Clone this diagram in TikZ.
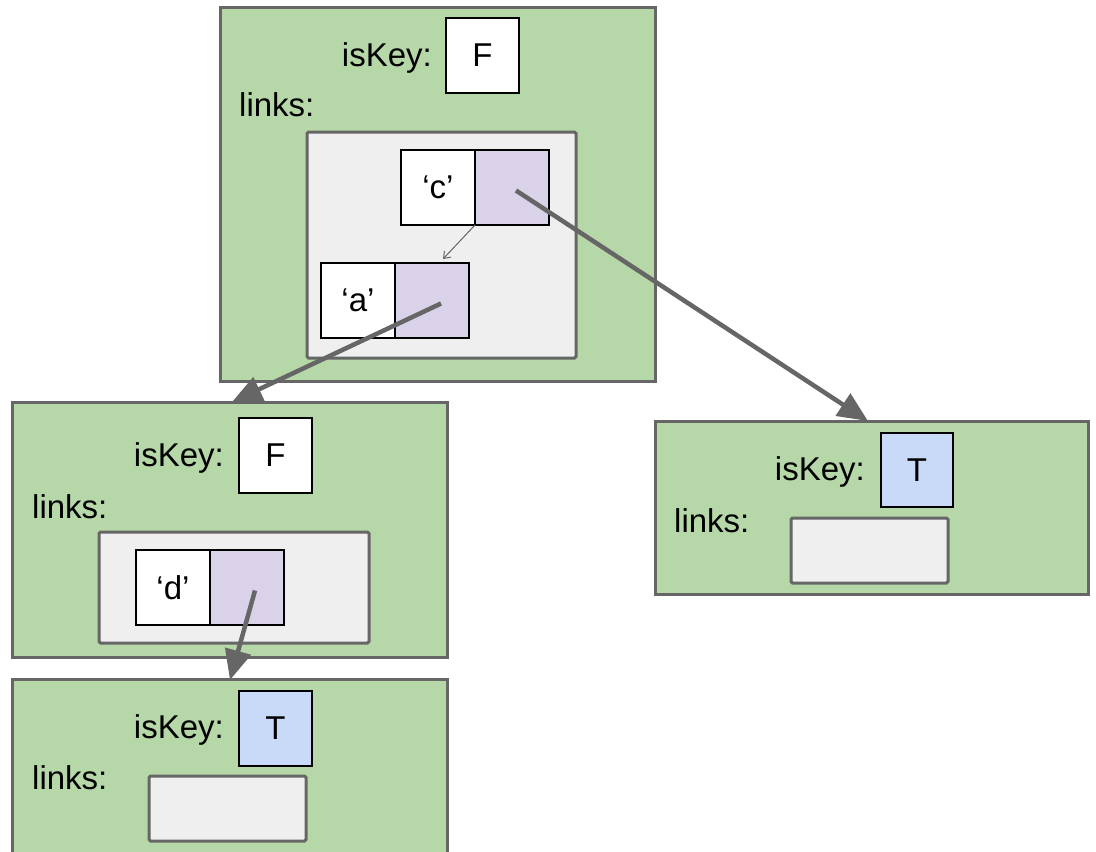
\documentclass[tikz,border=0pt]{standalone}
\usepackage{fontspec}
\setmainfont{Liberation Sans}
\usetikzlibrary{arrows.meta}
\definecolor{nodegreen}{HTML}{B6D7A8}
\definecolor{edgegray}{HTML}{666666}
\definecolor{listgray}{HTML}{EFEFEF}
\definecolor{ptrpurple}{HTML}{D9D2E9}
\definecolor{keyblue}{HTML}{C9DAF8}
\begin{document}
\begin{tikzpicture}[x=1pt,y=-1pt,
  box/.style={draw=edgegray, line width=3pt, inner sep=0pt, outer sep=0pt, anchor=north west},
  trienode/.style={box, fill=nodegreen},
  linklist/.style={box, fill=listgray, rounded corners=1.5pt},
  cell/.style={draw=black, line width=1.5pt, inner sep=0pt, outer sep=0pt, anchor=north west,
    minimum width=74pt, minimum height=75pt, font=\fontsize{33}{36}\selectfont},
  keycell/.style={cell, fill=white},
  ptrcell/.style={cell, fill=ptrpurple},
  flagF/.style={cell, fill=white, minimum width=73pt},
  flagT/.style={cell, fill=keyblue, minimum width=73pt},
  label/.style={font=\fontsize{33}{36}\selectfont, inner sep=0pt},
  link/.style={draw=edgegray, line width=4.5pt, -{Triangle[length=30pt,width=26pt]}},
  sibling/.style={draw=edgegray, line width=1pt, -{Straight Barb[length=6pt,width=9pt]}}
]
\useasboundingbox (0,0) rectangle (1096,852);
\clip (0,0) rectangle (1096,852);

% root node
\node[trienode, minimum width=435pt, minimum height=374pt] (root) at (220,7) {};
\node[label, anchor=base east] (rootkeylbl) at (432,66) {isKey:};
\node[flagF] (rootflag) at (446,18) {F};
\node[label, anchor=base west] (rootlinks) at (239,116) {links:};
\node[linklist, minimum width=269pt, minimum height=226pt] (rootlist) at (307,132) {};
\node[keycell] (ck) at (401,150) {`c'};
\node[ptrcell] (cp) at (475,150) {};
\node[keycell] (ak) at (321,263) {`a'};
\node[ptrcell] (ap) at (395,263) {};

% node reached by 'a'
\node[trienode, minimum width=435pt, minimum height=255pt] (anode) at (12,402) {};
\node[label, anchor=base east] (akeylbl) at (224,466) {isKey:};
\node[flagF] (aflag) at (239,418) {F};
\node[label, anchor=base west] (alinks) at (32,518) {links:};
\node[linklist, minimum width=270pt, minimum height=111pt] (alist) at (99,532) {};
\node[keycell] (dk) at (136,550) {`d'};
\node[ptrcell] (dp) at (210,550) {};

% node reached by 'd'
\node[trienode, minimum width=435pt, minimum height=200pt] (dnode) at (12,679) {};
\node[label, anchor=base east] (dkeylbl) at (224,738) {isKey:};
\node[flagT] (dflag) at (239,691) {T};
\node[label, anchor=base west] (dlinks) at (32,789) {links:};
\node[linklist, minimum width=157pt, minimum height=65pt] (dlist) at (149,776) {};

% node reached by 'c'
\node[trienode, minimum width=433pt, minimum height=173pt] (cnode) at (655,421) {};
\node[label, anchor=base east] (ckeylbl) at (865,480) {isKey:};
\node[flagT, minimum width=72pt, minimum height=74pt] (cflag) at (881,433) {T};
\node[label, anchor=base west] (clinks) at (674,532) {links:};
\node[linklist, minimum width=157pt, minimum height=65pt] (clist) at (791,518) {};

% arrow tips on the target nodes
\coordinate (ctip) at (868,421);
\coordinate (atip) at (232,402);
\coordinate (dtip) at (230,680);
\coordinate (sibtip) at (443,259);

% pointers
\draw[sibling] (cp.south west) -- (sibtip);
\draw[link] ([shift={(4,3)}]cp.center) -- (ctip);
\draw[link] ([shift={(9,3)}]ap.center) -- (atip);
\draw[link] ([shift={(8,3)}]dp.center) -- (dtip);
\end{tikzpicture}
\end{document}
